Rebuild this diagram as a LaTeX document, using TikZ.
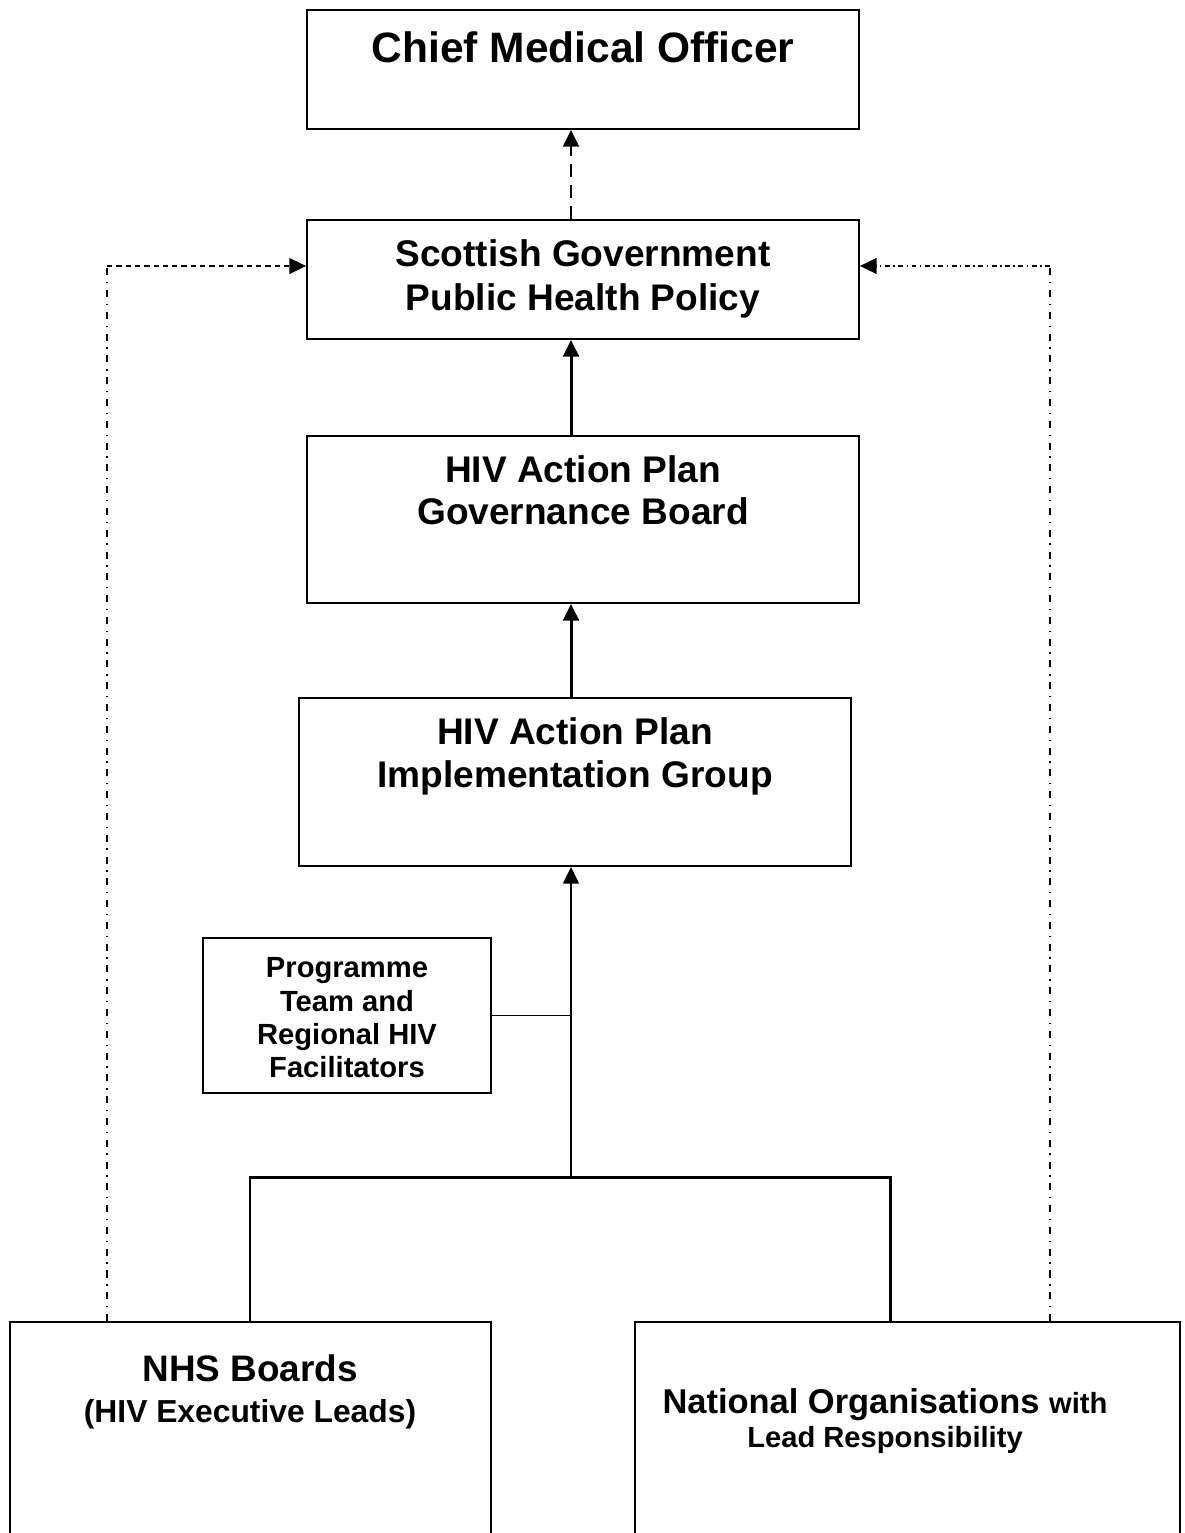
\documentclass[tikz,border=0pt]{standalone}
\usepackage{fontspec}
\setmainfont{Liberation Sans}
\usetikzlibrary{arrows.meta,positioning}
\tikzset{
	box/.style={draw,rectangle,line width=1.1pt,inner sep=0pt},
	txt/.style={align=center,font=\bfseries},
	arr/.style={-{Triangle[length=9.5pt,width=9pt]}},
	stem/.style={line width=1.7pt},
	bus/.style={line width=1.7pt},
	thin/.style={line width=1.1pt},
	longdash/.style={line width=1.6pt,dash pattern=on 7.4pt off 4.6pt},
	shortdash/.style={line width=0.8pt,dash pattern=on 3pt off 2.3pt},
	dashdot/.style={line width=0.8pt,dash pattern=on 4pt off 3.8pt on 0.8pt off 3.8pt},
	fastdashdot/.style={line width=0.8pt,dash pattern=on 2.8pt off 2pt on 0.8pt off 2pt}
}

\begin{document}
\begin{tikzpicture}[x=0.02cm,y=-0.02cm]
			\useasboundingbox (0,0) rectangle (1184,1533);
			\node[box,minimum width=11.04cm,minimum height=2.38cm] (cmo) at (583,69.5) {};
			\node[box,minimum width=11.04cm,minimum height=2.38cm] (sg) at (583,279.5) {};
			\node[box,minimum width=11.04cm,minimum height=3.34cm] (gov) at (583,519.5) {};
			\node[box,minimum width=11.04cm,minimum height=3.36cm] (impl) at (575,782) {};
			\node[box,minimum width=5.76cm,minimum height=3.1cm] (prog) at (347,1015.5) {};
			\node[box,minimum width=9.62cm,minimum height=4.76cm] (nhs) at (250.5,1441) {};
			\node[box,minimum width=10.9cm,minimum height=4.76cm] (nat) at (907.5,1441) {};
			
			\node[txt,font=\fontsize{24.2}{29}\selectfont\bfseries] (cmot) at (583,47) {Chief Medical Officer};
			\node[txt,font=\fontsize{21.1}{25}\selectfont\bfseries] (sgt) at (583,279) {Scottish Government\\Public Health Policy};
			\node[txt,font=\fontsize{21.1}{24}\selectfont\bfseries] (govt) at (583,490) {HIV Action Plan\\Governance Board};
			\node[txt,font=\fontsize{21.1}{24.5}\selectfont\bfseries] (implt) at (575,756.5) {HIV Action Plan\\Implementation Group};
			\node[txt,font=\fontsize{16.6}{19}\selectfont\bfseries] (progt) at (347,1018) {Programme\\Team and\\Regional HIV\\Facilitators};
			\node[txt,font=\fontsize{21}{23.3}\selectfont\bfseries] (nhst) at (250,1391.5) {NHS Boards\\{\fontsize{18.1}{22}\selectfont (HIV Executive Leads)}};
			\node[txt,font=\fontsize{19.6}{19}\selectfont\bfseries] (natt) at (885,1421) {National Organisations {\fontsize{16.6}{19}\selectfont with}\\{\fontsize{16.6}{19}\selectfont Lead Responsibility}};
			
			\coordinate (hub) at (571,1177);
			\coordinate (busl) at (250,1177);
			\coordinate (busr) at (890,1177);
			\coordinate (lft) at (107,266);
			\coordinate (rgt) at (1050,266);
			
			\draw[longdash,arr] (sg.north -| hub) -- (cmo.south -| hub);
			\draw[stem,arr] (gov.north -| hub) -- (sg.south -| hub);
			\draw[stem,arr] (impl.north -| hub) -- (gov.south -| hub);
			\draw[thin,arr] (hub) -- (impl.south -| hub);
			\draw[thin] (prog.east) -- (prog.east -| hub);
			\draw[bus] (nhs.north -| busl) -- (busl) -- (busr) -- (nat.north -| busr);
			\draw[dashdot] (nhs.north -| lft) -- (lft);
			\draw[shortdash,arr] (lft) -- (lft -| sg.west);
			\draw[dashdot] (nat.north -| rgt) -- (rgt);
			\draw[fastdashdot,arr] (rgt) -- (rgt -| sg.east);
		\end{tikzpicture}
\end{document}
